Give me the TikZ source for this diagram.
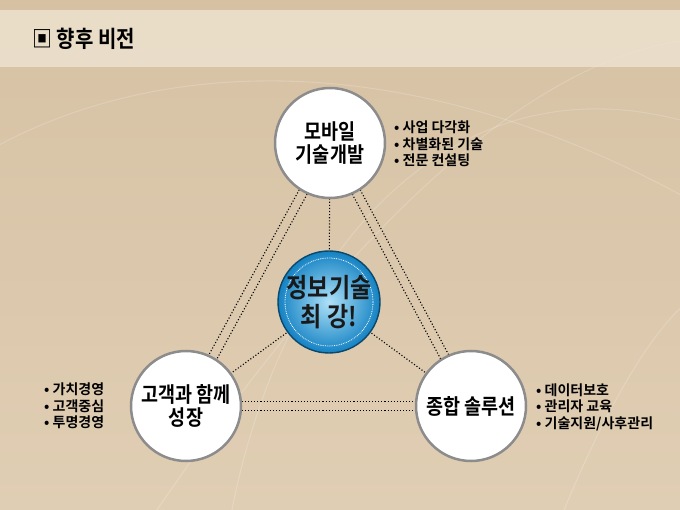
\documentclass[tikz,border=0pt]{standalone}
\usepackage{fontspec}
\usepackage{graphicx}
\setmainfont{Noto Sans CJK KR}[BoldFont={Noto Sans CJK KR Bold}]
\usetikzlibrary{calc}
\pgfdeclarelayer{back}
\pgfdeclarelayer{bg}
\pgfsetlayers{back,bg,main}
\definecolor{bgA}{RGB}{214,193,163}
\definecolor{bgB}{RGB}{224,206,180}
\definecolor{band}{RGB}{238,228,210}
\definecolor{blueO}{RGB}{20,130,195}
\definecolor{blueI}{RGB}{175,225,248}
\definecolor{ring}{RGB}{140,140,140}
\newcommand{\tall}[1]{\scalebox{1}[1.15]{#1}}
\tikzset{
  wcirc/.style={circle,fill=white,draw=ring,line width=2.5pt,minimum size=110pt,inner sep=0pt,align=center,font=\bfseries\fontsize{18.5}{23}\selectfont},
  ccirc/.style={circle,draw=blueO!55!black,line width=1.4pt,inner color=blueI,outer color=blueO,minimum size=102pt,inner sep=0pt},
  dline/.style={dotted,line width=1.1pt,black},
  blist/.style={align=left,font=\bfseries\fontsize{14}{16.5}\selectfont,inner sep=0pt},
  swirl/.style={white,opacity=0.18,line width=1.1pt},
}
\begin{document}
\begin{tikzpicture}[x=1pt,y=-1pt]
\useasboundingbox (0,0) rectangle (680,510);
\begin{pgfonlayer}{back}
\shade[top color=bgA,bottom color=bgB] (0,0) rectangle (680,510);
\draw[swirl] (150,520) .. controls (300,300) and (500,60) .. (690,40);
\draw[swirl] (230,520) .. controls (280,250) and (450,60) .. (680,120);
\draw[swirl] (-10,150) .. controls (150,60) and (400,40) .. (690,200);
\draw[swirl] (560,520) .. controls (600,420) and (650,330) .. (690,300);
\fill[band,opacity=0.8] (0,10) rectangle (680,67);
\end{pgfonlayer}
\node[anchor=west,font=\bfseries\fontsize{20}{24}\selectfont,inner sep=0pt] (title) at (32,39) {\tall{▣ 향후 비전}};
% circles
\node[wcirc] (top) at (330,143) {\tall{모바일}\\\tall{기술개발}};
\node[wcirc] (left) at (186,406) {\tall{고객과 함께}\\\tall{성장}};
\node[wcirc] (right) at (471,406) {\tall{종합 솔루션}};
\node[ccirc] (ctr) at (329,302) {};
\draw[white,densely dotted,line width=0.8pt] (ctr.center) circle (44pt);
\node[align=center,font=\bfseries\fontsize{23}{29}\selectfont,text=black!90] (ctrtext) at (329,302) {\tall{정보기술}\\\tall{최 강!}};
% connectors
\begin{pgfonlayer}{bg}
\foreach \a/\b in {top/left,left/right,right/top}{
  \draw[dline] ($(\a.center)!4.5pt!90:(\b.center)$) -- ($(\b.center)!4.5pt!-90:(\a.center)$);
  \draw[dline] ($(\a.center)!4.5pt!-90:(\b.center)$) -- ($(\b.center)!4.5pt!90:(\a.center)$);
}
\draw[dline] (ctr.center) -- (top.center);
\draw[dline] (ctr.center) -- (left.center);
\draw[dline] (ctr.center) -- (right.center);
\end{pgfonlayer}
% bullet lists
\node[blist,anchor=west] (ltop) at (394,144) {• 사업 다각화\\• 차별화된 기술\\• 전문 컨설팅};
\node[blist,anchor=west] (lleft) at (44,406) {• 가치경영\\• 고객중심\\• 투명경영};
\node[blist,anchor=west] (lright) at (536,407) {• 데이터보호\\• 관리자 교육\\• 기술지원/사후관리};
\end{tikzpicture}
\end{document}
